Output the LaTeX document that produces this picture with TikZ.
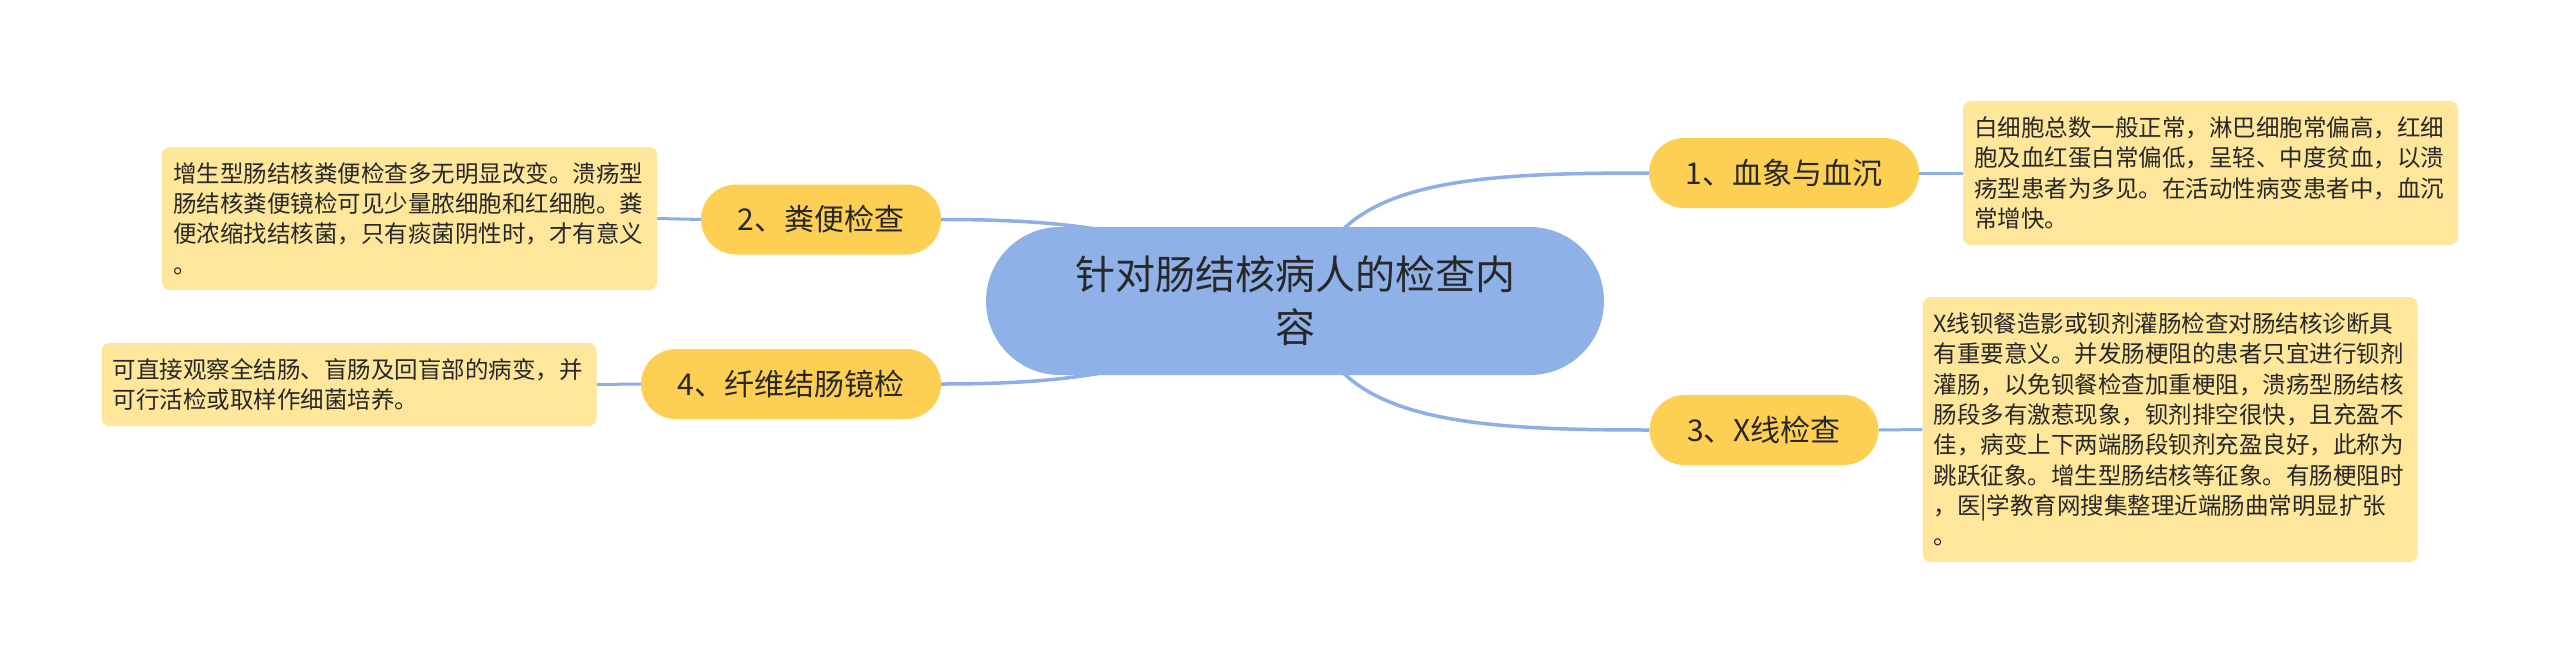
\documentclass[tikz,border=0pt]{standalone}
\usepackage{fontspec}
\setmainfont{Noto Sans CJK SC}
\usetikzlibrary{backgrounds}
\definecolor{centerfill}{RGB}{142,177,232}
\definecolor{branchfill}{RGB}{253,208,84}
\definecolor{leaffill}{RGB}{254,230,154}
\definecolor{linkcol}{RGB}{140,175,230}
\definecolor{txt}{RGB}{40,40,40}
\begin{document}
\begin{tikzpicture}[x=1pt,y=-1pt,
  centerbox/.style={fill=centerfill, rounded corners=74pt, minimum width=618pt, minimum height=148pt, inner sep=0pt, align=center, text=txt, font=\fontsize{40}{53}\selectfont},
  branchbox/.style={fill=branchfill, rounded corners=35pt, minimum height=70pt, inner sep=0pt, text=txt, font=\fontsize{30}{36}\selectfont},
  leafbox/.style={fill=leaffill, rounded corners=8pt, inner xsep=11pt, inner ysep=0pt, text width=473pt, align=left, text=txt, font=\fontsize{23.5}{30.3}\selectfont},
  link/.style={draw=linkcol, line width=3.5pt},
  leaflink/.style={draw=linkcol, line width=3pt}]
\useasboundingbox (0,0) rectangle (2560,664);

\node[centerbox] (c) at (1295,301) {针对肠结核病人的检查内\\容};

\node[branchbox, minimum width=270pt] (n1) at (1784,173) {1、血象与血沉};
\node[branchbox, minimum width=240pt] (n2) at (821,219.5) {2、粪便检查};
\node[branchbox, minimum width=229pt] (n3) at (1764,430) {3、X线检查};
\node[branchbox, minimum width=300pt] (n4) at (791,384) {4、纤维结肠镜检};

\node[leafbox, minimum height=144pt] (l1) at (2210.5,173) {白细胞总数一般正常，淋巴细胞常偏高，红细\\胞及血红蛋白常偏低，呈轻、中度贫血，以溃\\疡型患者为多见。在活动性病变患者中，血沉\\常增快。};
\node[leafbox, minimum height=143pt] (l2) at (409.5,218.5) {增生型肠结核粪便检查多无明显改变。溃疡型\\肠结核粪便镜检可见少量脓细胞和红细胞。粪\\便浓缩找结核菌，只有痰菌阴性时，才有意义\\。};
\node[leafbox, minimum height=265pt] (l3) at (2170,429.5) {X线钡餐造影或钡剂灌肠检查对肠结核诊断具\\有重要意义。并发肠梗阻的患者只宜进行钡剂\\灌肠，以免钡餐检查加重梗阻，溃疡型肠结核\\肠段多有激惹现象，钡剂排空很快，且充盈不\\佳，病变上下两端肠段钡剂充盈良好，此称为\\跳跃征象。增生型肠结核等征象。有肠梗阻时\\，医|学教育网搜集整理近端肠曲常明显扩张\\。};
\node[leafbox, minimum height=83pt] (l4) at (349,384.5) {可直接观察全结肠、盲肠及回盲部的病变，并\\可行活检或取样作细菌培养。};

\coordinate (c1) at (1335,238);
\coordinate (c3) at (1335,364);
\coordinate (c2) at (1170,245);
\coordinate (c4) at (1170,357);

\begin{pgfonlayer}{background}
\draw[link] (c1) .. controls (1385,178) and (1500,173) .. (n1.west);
\draw[link] (c3) .. controls (1385,424) and (1500,430) .. (n3.west);
\draw[link] (n2.east) .. controls (1040,219.5) and (1100,226) .. (c2);
\draw[link] (n4.east) .. controls (1040,384) and (1100,377) .. (c4);
\draw[leaflink] (n1.east) -- (l1.west);
\draw[leaflink] (n3.east) -- (l3.west);
\draw[leaflink] (l2.east) -- (n2.west);
\draw[leaflink] (l4.east) -- (n4.west);
\end{pgfonlayer}
\end{tikzpicture}
\end{document}
